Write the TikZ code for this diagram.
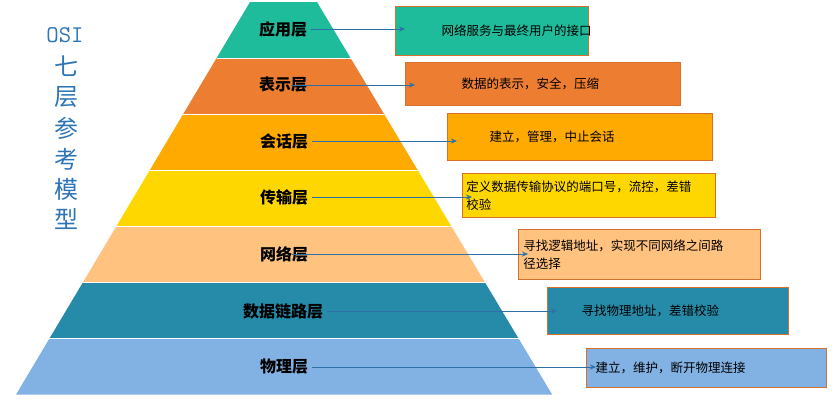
\documentclass[tikz,border=0pt]{standalone}
\usepackage{fontspec}
\newfontfamily\cjk{Noto Sans CJK SC}
\usetikzlibrary{arrows.meta}
\definecolor{cA}{HTML}{1FBC9C}
\definecolor{cB}{HTML}{ED7D31}
\definecolor{cC}{HTML}{FFAA00}
\definecolor{cD}{HTML}{FFD700}
\definecolor{cE}{HTML}{FFC27F}
\definecolor{cF}{HTML}{268BA8}
\definecolor{cG}{HTML}{82B1E3}
\definecolor{ttl}{HTML}{2E75B6}
\definecolor{arr}{HTML}{2E6FA8}
\tikzset{
  layer/.style={draw=white, line width=1pt},
  lname/.style={font=\cjk\bfseries\fontsize{16}{18}\selectfont, text=black},
  descbox/.style={draw=cB!90!black, line width=0.6pt, anchor=north west, inner ysep=0pt,
    align=left, font=\cjk\fontsize{12.5}{18}\selectfont, text=black},
  desctext/.style={anchor=west, font=\cjk\fontsize{12.5}{18}\selectfont, text=black}
  ,link/.style={draw=arr, line width=0.6pt, -{Stealth[length=6pt,width=5pt]}}
}
\begin{document}
\begin{tikzpicture}[x=1pt,y=-1pt]
\useasboundingbox (0,0) rectangle (839,409);
% pyramid bands
\foreach \c [count=\i] in {cA,cB,cC,cD,cE,cF,cG}{
  \pgfmathsetmacro{\yt}{2+56.1*(\i-1)}
  \pgfmathsetmacro{\yb}{2+56.1*\i}
  \fill[\c] ({250-0.596*(\yt-2)},\yt) -- ({317+0.599*(\yt-2)},\yt)
    -- ({317+0.599*(\yb-2)},\yb) -- ({250-0.596*(\yb-2)},\yb) -- cycle;
  \draw[layer] ({250-0.596*(\yt-2)},\yt) -- ({317+0.599*(\yt-2)},\yt);
}
% title
\node[font=\ttfamily\fontsize{24}{26}\selectfont, text=ttl] (osi) at (65,35) {OSI};
\foreach \ch/\yy [count=\k] in {七/66,层/97,参/128,考/159,模/189,型/219}
  \node[font=\cjk\fontsize{24}{26}\selectfont, text=ttl] (t\k) at (66,\yy) {\ch};
% layer names
\node[lname] (app) at (283,29) {应用层};
\node[lname] (pre) at (283,85) {表示层};
\node[lname] (ses) at (284,141) {会话层};
\node[lname] (tra) at (284,197) {传输层};
\node[lname] (net) at (284,254) {网络层};
\node[lname] (dat) at (283,311) {数据链路层};
\node[lname] (phy) at (284,367) {物理层};
% descriptions
\node[descbox, fill=cA, minimum width=193pt, minimum height=49pt] (dapp) at (395,6) {};
\node[desctext] at (438,30.5) {网络服务与最终用户的接口};
\node[descbox, fill=cB, minimum width=275pt, minimum height=43pt] (dpre) at (405,62) {};
\node[desctext] at (458,83.5) {数据的表示，安全，压缩};
\node[descbox, fill=cC, minimum width=265pt, minimum height=47pt] (dses) at (447,113) {};
\node[desctext] at (486,136.5) {建立，管理，中止会话};
\node[descbox, fill=cD, text width=245pt, inner xsep=4pt, minimum height=44pt] (dtra) at (462,173) {定义数据传输协议的端口号，流控，差错\\校验};
\node[descbox, fill=cE, text width=232pt, inner xsep=5pt, minimum height=50pt] (dnet) at (518,229) {寻找逻辑地址，实现不同网络之间路\\径选择};
\node[descbox, fill=cF, minimum width=241pt, minimum height=47pt] (ddat) at (547,287) {};
\node[desctext] at (578,310.5) {寻找物理地址，差错校验};
\node[descbox, fill=cG, minimum width=240pt, minimum height=39pt] (dphy) at (586,348) {};
\node[desctext] at (592,367.5) {建立，维护，断开物理连接};
% connectors
\draw[link] (app.east) -- ([xshift=10pt]dapp.west |- app.east);
\draw[link] ([xshift=-20pt]pre.east) -- ([xshift=10pt]dpre.west |- pre.east);
\draw[link] (ses.east) -- ([xshift=10pt]dses.west |- ses.east);
\draw[link] (tra.east) -- ([xshift=10pt]dtra.west |- tra.east);
\draw[link] ([xshift=-20pt]net.east) -- ([xshift=10pt]dnet.west |- net.east);
\draw[link] (dat.east) -- ([xshift=10pt]ddat.west |- dat.east);
\draw[link] (phy.east) -- ([xshift=10pt]dphy.west |- phy.east);
\end{tikzpicture}
\end{document}
